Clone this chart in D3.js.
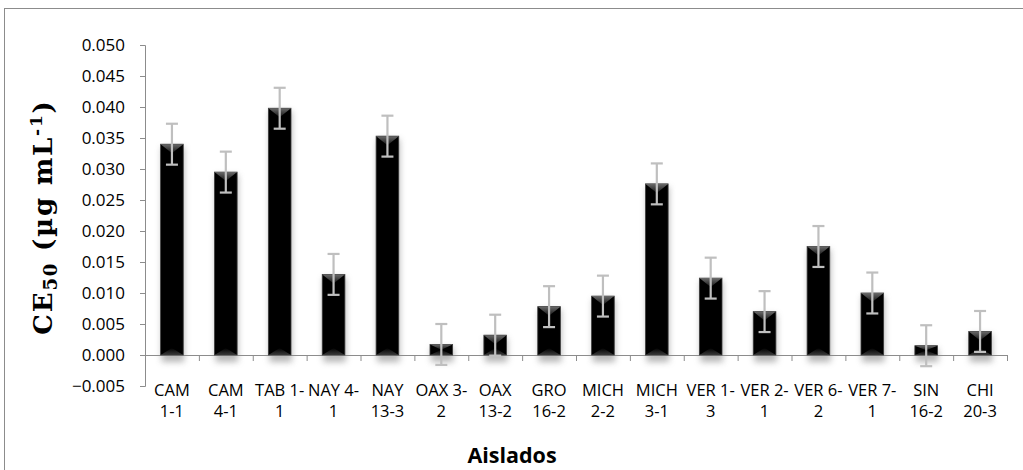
<!DOCTYPE html>
<html>
<head>
<meta charset="utf-8">
<script src="https://cdn.jsdelivr.net/npm/d3@7"></script>
<style>
  html, body { margin: 0; padding: 0; background: #fff; }
  svg { display: block; }
</style>
</head>
<body>
<svg id="chart" width="1023" height="470"></svg>
<script>
// Isolates and their CE50 values (µg mL-1) with standard error
const categories = ["CAM 1-1", "CAM 4-1", "TAB 1-1", "NAY 4-1", "NAY 13-3", "OAX 3-2", "OAX 13-2", "GRO 16-2",
                    "MICH 2-2", "MICH 3-1", "VER 1-3", "VER 2-1", "VER 6-2", "VER 7-1", "SIN 16-2", "CHI 20-3"];
const tickLines = [["CAM", "1-1"], ["CAM", "4-1"], ["TAB 1-", "1"], ["NAY 4-", "1"], ["NAY", "13-3"], ["OAX 3-", "2"],
                   ["OAX", "13-2"], ["GRO", "16-2"], ["MICH", "2-2"], ["MICH", "3-1"], ["VER 1-", "3"], ["VER 2-", "1"],
                   ["VER 6-", "2"], ["VER 7-", "1"], ["SIN", "16-2"], ["CHI", "20-3"]];
const ce50 = [0.0340, 0.0295, 0.0398, 0.0130, 0.0353, 0.0017, 0.0032, 0.0078,
              0.0095, 0.0276, 0.0124, 0.0070, 0.0175, 0.0100, 0.0015, 0.0038];
const errors = [0.0033, 0.0033, 0.0033, 0.0033, 0.0033, 0.0033, 0.0033, 0.0033,
                0.0033, 0.0033, 0.0033, 0.0033, 0.0033, 0.0033, 0.0033, 0.0033];
const yTicks = [-0.005, 0, 0.005, 0.010, 0.015, 0.020, 0.025, 0.030, 0.035, 0.040, 0.045, 0.050];

const svg = d3.select("#chart");
const W = 1023, H = 470;
const plot = { left: 145, right: 1007, top: 45, bottom: 386 };

svg.append("rect").attr("width", W).attr("height", H).attr("fill", "#fff");
// chart frame
svg.append("rect").attr("x", 4.5).attr("y", 8.5).attr("width", 1030).attr("height", 480)
  .attr("fill", "none").attr("stroke", "#8c8c8c").attr("stroke-width", 1);

const y = d3.scaleLinear().domain([-0.005, 0.050]).range([plot.bottom, plot.top]);
const x = d3.scaleBand().domain(categories).range([plot.left, plot.right])
  .paddingInner(0.58).paddingOuter(0.29);
const xEdge = d3.scaleLinear().domain([0, categories.length]).range([plot.left, plot.right]);

const defs = svg.append("defs");
const blur = defs.append("filter").attr("id", "shadow").attr("x", "-50%").attr("y", "-50%")
  .attr("width", "200%").attr("height", "200%");
blur.append("feGaussianBlur").attr("stdDeviation", 3);

const topGrad = defs.append("linearGradient").attr("id", "bevelTop").attr("x1", 0).attr("y1", 0).attr("x2", 0).attr("y2", 1);
topGrad.append("stop").attr("offset", "0%").attr("stop-color", "#6a6a6a");
topGrad.append("stop").attr("offset", "100%").attr("stop-color", "#151515");
const botGrad = defs.append("linearGradient").attr("id", "bevelBot").attr("x1", 0).attr("y1", 1).attr("x2", 0).attr("y2", 0);
botGrad.append("stop").attr("offset", "0%").attr("stop-color", "#3a3a3a");
botGrad.append("stop").attr("offset", "100%").attr("stop-color", "#000");

// Y axis
const yAxis = d3.axisLeft(y).tickValues(yTicks).tickFormat(d3.format(".3f")).tickSizeInner(5).tickSizeOuter(5).tickPadding(15);
const gy = svg.append("g").attr("transform", `translate(${plot.left},0)`).call(yAxis);
gy.select(".domain").attr("stroke", "#8c8c8c");
gy.selectAll(".tick line").attr("stroke", "#8c8c8c");
gy.selectAll(".tick text").attr("font-family", "'Open Sans', sans-serif").attr("font-size", 17).attr("fill", "#000");

const data = categories.map((c, i) => ({ c, v: ce50[i], e: errors[i], i }));

// bar shadows
svg.append("g").selectAll("rect").data(data).join("rect")
  .attr("x", d => x(d.c) + 1)
  .attr("y", d => y(d.v) + 3)
  .attr("width", x.bandwidth())
  .attr("height", d => y(0) - y(d.v) + 4)
  .attr("fill", "#9a9a9a")
  .attr("opacity", 0.7)
  .attr("filter", "url(#shadow)");

// X axis at zero with tick marks on category boundaries
const xAxis = d3.axisBottom(xEdge).tickValues(d3.range(categories.length + 1)).tickFormat("").tickSizeInner(6).tickSizeOuter(0);
const gx = svg.append("g").attr("transform", `translate(0,${y(0)})`).call(xAxis);
gx.select(".domain").attr("stroke", "#8c8c8c");
gx.selectAll(".tick line").attr("stroke", "#8c8c8c");

// bars
const bars = svg.append("g").selectAll("g").data(data).join("g");
bars.append("rect")
  .attr("x", d => x(d.c))
  .attr("y", d => y(d.v))
  .attr("width", x.bandwidth())
  .attr("height", d => y(0) - y(d.v))
  .attr("fill", "#000")
  .attr("stroke", "#3c3c3c")
  .attr("stroke-width", 0.8);
bars.append("path")
  .attr("d", d => {
    const x0 = x(d.c), x1 = x0 + x.bandwidth(), t = y(d.v), h = Math.min(9, (y(0) - t) / 2);
    return `M${x0},${t}L${x1},${t}L${(x0 + x1) / 2},${t + h}Z`;
  })
  .attr("fill", "url(#bevelTop)");
bars.append("path")
  .attr("d", d => {
    const x0 = x(d.c), x1 = x0 + x.bandwidth(), b = y(0), h = Math.min(7, (b - y(d.v)) / 2);
    return `M${x0},${b}L${x1},${b}L${(x0 + x1) / 2},${b - h}Z`;
  })
  .attr("fill", "url(#bevelBot)");

// error bars
const eb = svg.append("g").attr("stroke", "#bfbfbf").attr("stroke-width", 2.2).attr("fill", "none");
const cx = d => x(d.c) + x.bandwidth() / 2;
eb.selectAll("line.v").data(data).join("line").attr("class", "v")
  .attr("x1", cx).attr("x2", cx)
  .attr("y1", d => y(d.v + d.e)).attr("y2", d => y(d.v - d.e));
eb.selectAll("line.t").data(data).join("line").attr("class", "t")
  .attr("x1", d => cx(d) - 6).attr("x2", d => cx(d) + 6)
  .attr("y1", d => y(d.v + d.e)).attr("y2", d => y(d.v + d.e));
eb.selectAll("line.b").data(data).join("line").attr("class", "b")
  .attr("x1", d => cx(d) - 6).attr("x2", d => cx(d) + 6)
  .attr("y1", d => y(d.v - d.e)).attr("y2", d => y(d.v - d.e));

// category labels (two lines each)
const labels = svg.append("g").attr("font-family", "'Open Sans', sans-serif").attr("font-size", 16.5)
  .attr("fill", "#000").attr("text-anchor", "middle");
labels.selectAll("text").data(data).join("text")
  .attr("transform", d => `translate(${cx(d)},${y(0) + 41})`)
  .selectAll("tspan").data(d => tickLines[d.i]).join("tspan")
  .attr("x", 0).attr("dy", (t, j) => j === 0 ? 0 : 21).text(t => t);

// axis titles
svg.append("text").attr("x", 512).attr("y", 463).attr("text-anchor", "middle")
  .attr("font-family", "'Open Sans', sans-serif").attr("font-weight", "bold").attr("font-size", 21.5)
  .text("Aislados");

const yt = svg.append("text").attr("transform", "translate(52,217) rotate(-90)").attr("text-anchor", "middle")
  .attr("font-family", "'DejaVu Serif', serif").attr("font-weight", "bold").attr("font-size", 26)
  .attr("letter-spacing", 1.8);
yt.append("tspan").text("CE");
yt.append("tspan").attr("font-size", 18).attr("dy", 5).text("50");
yt.append("tspan").attr("dy", -5).text(" (µg mL");
yt.append("tspan").attr("font-size", 17).attr("dy", -10).text("-1");
yt.append("tspan").attr("dy", 10).text(")");
</script>
</body>
</html>
